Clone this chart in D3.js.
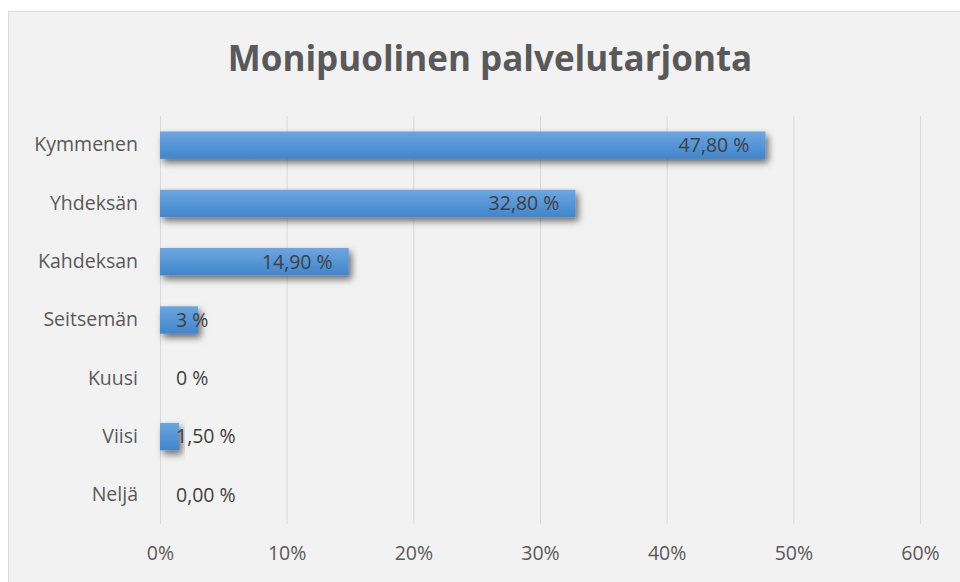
<!DOCTYPE html>
<html>
<head>
<meta charset="utf-8">
<script src="https://cdn.jsdelivr.net/npm/d3@7"></script>
<style>
  body { margin: 0; background: #fff; }
  text { font-family: "Open Sans", "Noto Sans", sans-serif; }
</style>
</head>
<body>
<script>
"use strict";
// data
const categories = ["Kymmenen", "Yhdeksän", "Kahdeksan", "Seitsemän", "Kuusi", "Viisi", "Neljä"];
const values = [47.8, 32.8, 14.9, 3, 0, 1.5, 0];
const valueLabels = ["47,80 %", "32,80 %", "14,90 %", "3 %", "0 %", "1,50 %", "0,00 %"];
const ticks = [0, 10, 20, 30, 40, 50, 60];
const title = "Monipuolinen palvelutarjonta";

const W = 960, H = 582;
const plot = { left: 160, right: 920, top: 116, bottom: 524 };

const svg = d3.select("body").append("svg")
    .attr("width", W).attr("height", H);

// chart area
svg.append("rect").attr("x", 8.5).attr("y", 11.5)
    .attr("width", W).attr("height", H)
    .attr("fill", "#f2f2f2").attr("stroke", "#d9d9d9");

const defs = svg.append("defs");
const grad = defs.append("linearGradient").attr("id", "barGrad")
    .attr("x1", 0).attr("y1", 0).attr("x2", 0).attr("y2", 1);
grad.append("stop").attr("offset", "0%").attr("stop-color", "#6ca6e0");
grad.append("stop").attr("offset", "100%").attr("stop-color", "#4185cb");
const shadow = defs.append("filter").attr("id", "shadow")
    .attr("x", "-20%").attr("y", "-30%").attr("width", "150%").attr("height", "180%");
shadow.append("feDropShadow").attr("dx", 3).attr("dy", 4).attr("stdDeviation", 3.5)
    .attr("flood-color", "#000").attr("flood-opacity", 0.55);

const x = d3.scaleLinear().domain([0, 60]).range([plot.left, plot.right]);
const y = d3.scaleBand().domain(categories).range([plot.top, plot.bottom]).paddingInner(0.53).paddingOuter(0.265);

// title
svg.append("text").attr("x", 490).attr("y", 71).attr("text-anchor", "middle")
    .attr("font-size", 35).attr("font-weight", "bold").attr("fill", "#595959")
    .text(title);

// gridlines
svg.append("g").selectAll("line").data(ticks).enter().append("line")
    .attr("x1", d => x(d) + 0.5).attr("x2", d => x(d) + 0.5)
    .attr("y1", plot.top).attr("y2", plot.bottom)
    .attr("stroke", "#d9d9d9").attr("stroke-width", 1);

// x axis labels
const xAxis = d3.axisBottom(x).tickValues(ticks).tickSize(0).tickPadding(0)
    .tickFormat(d => d + "%");
const gx = svg.append("g").attr("transform", "translate(0," + (plot.bottom + 22) + ")").call(xAxis);
gx.select(".domain").remove();
gx.selectAll("text").attr("font-size", 19.5).attr("fill", "#595959")
    .attr("font-family", "'Open Sans', sans-serif");

// y axis labels
const yAxis = d3.axisLeft(y).tickSize(0).tickPadding(22);
const gy = svg.append("g").attr("transform", "translate(" + plot.left + ",0)").call(yAxis);
gy.select(".domain").remove();
gy.selectAll("text").attr("font-size", 19.5).attr("fill", "#595959")
    .attr("font-family", "'Open Sans', sans-serif");

// bars
svg.append("g").selectAll("rect").data(values).enter().append("rect")
    .attr("x", x(0)).attr("y", (d, i) => y(categories[i]))
    .attr("width", d => Math.max(x(d) - x(0), 0.01))
    .attr("height", y.bandwidth())
    .attr("fill", "url(#barGrad)")
    .attr("filter", "url(#shadow)");

// value labels
const lbl = svg.append("g").selectAll("text").data(values).enter().append("text")
    .attr("y", (d, i) => y(categories[i]) + y.bandwidth() / 2)
    .attr("dy", "0.35em")
    .attr("font-size", 19.5).attr("fill", "#404040")
    .text((d, i) => valueLabels[i]);
lbl.attr("x", function (d) {
    const w = this.getComputedTextLength();
    return Math.max(x(d) - 16 - w, x(0) + 16);
});
</script>
</body>
</html>
